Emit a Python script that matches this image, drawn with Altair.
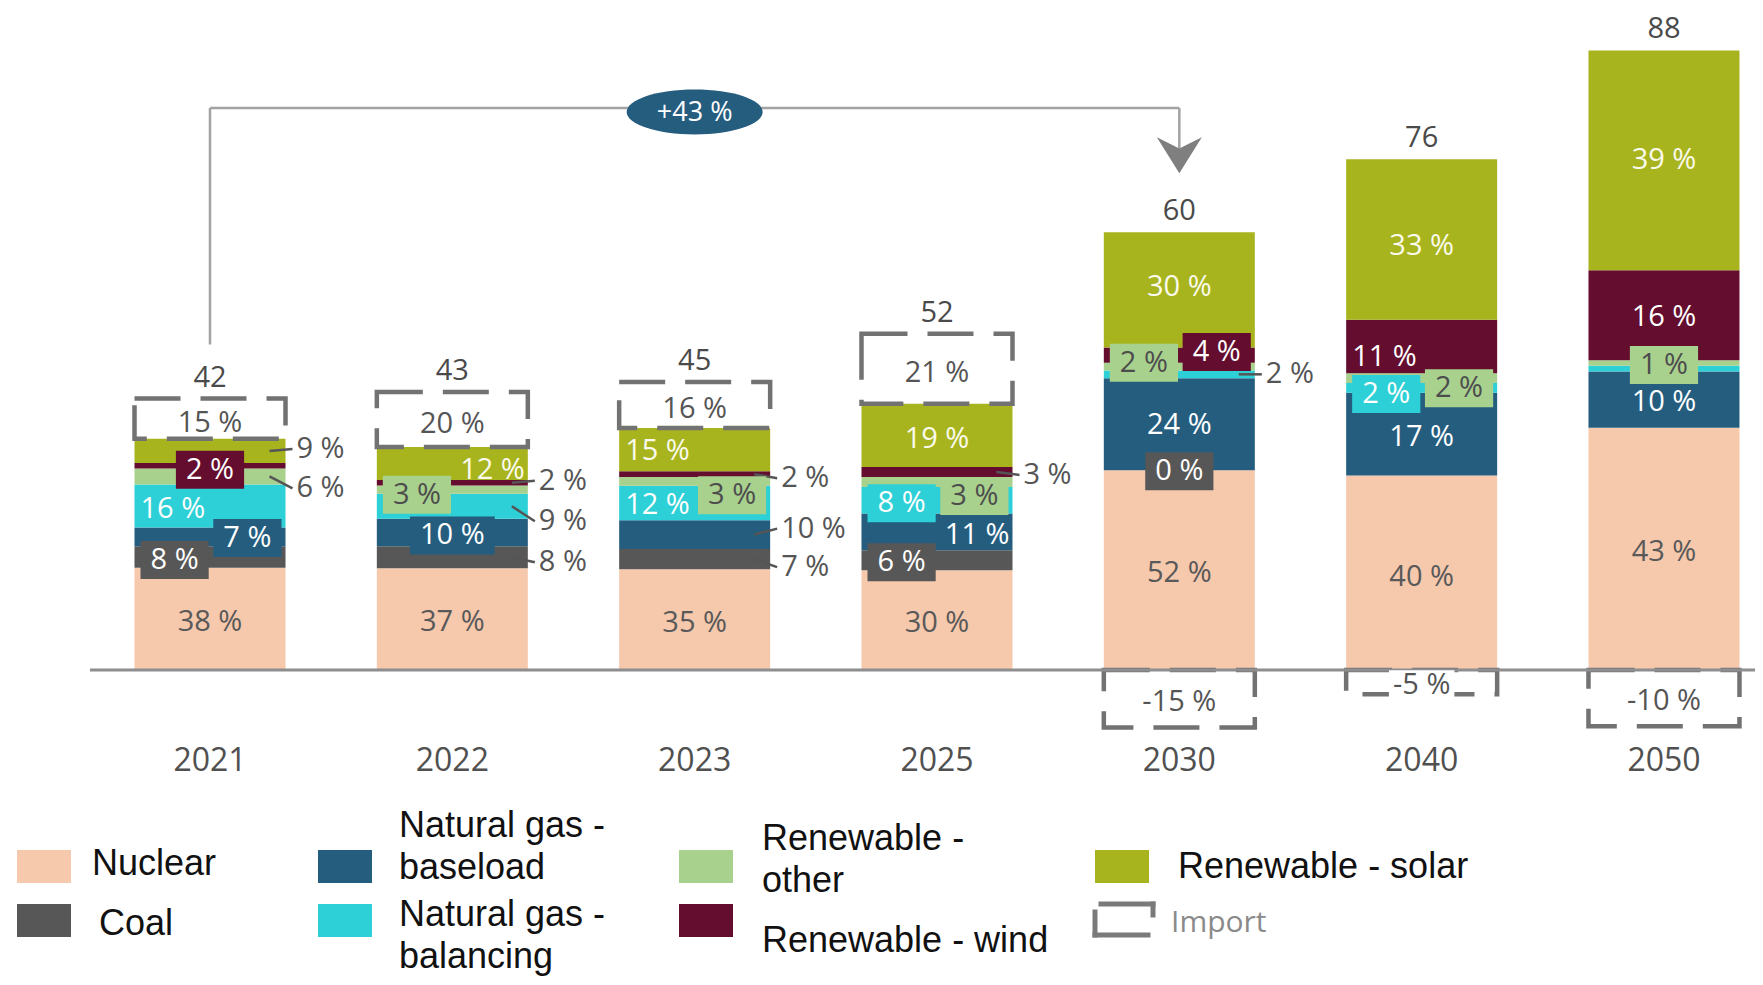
import altair as alt
import pandas as pd

# ---------------- data ----------------
years = ["2021", "2022", "2023", "2025", "2030", "2040", "2050"]
totals = [42, 43, 45, 52, 60, 76, 88]
import_pct = [15, 20, 16, 21, -15, -5, -10]
nuclear = [38, 37, 35, 30, 52, 40, 43]
coal = [8, 8, 7, 6, 0, 0, 0]
gas_baseload = [7, 10, 10, 11, 24, 17, 10]
gas_balancing = [16, 9, 12, 8, 2, 2, 1]
renew_other = [6, 3, 3, 3, 2, 2, 1]
renew_wind = [2, 2, 2, 3, 4, 11, 16]
renew_solar = [9, 12, 15, 19, 30, 33, 39]
categories = ["Nuclear", "Coal", "Natural gas - baseload", "Natural gas - balancing",
              "Renewable - other", "Renewable - wind", "Renewable - solar"]
growth_text = "+43 %"
import_name = "Import"

series = [nuclear, coal, gas_baseload, gas_balancing, renew_other, renew_wind, renew_solar]
KEYS = ["nuc", "coal", "base", "bal", "oth", "wind", "sol"]

# ---------------- styles ----------------
COLORS = {"nuc": "#F6C8AC", "coal": "#575757", "base": "#255D7F", "bal": "#2CD0D6",
          "oth": "#A9D18E", "wind": "#640D2E", "sol": "#A8B41D"}
TEXT_ON = {"nuc": "#595959", "coal": "#FFFFFF", "base": "#FFFFFF", "bal": "#FFFFFF",
           "oth": "#4D4D4D", "wind": "#FFFFFF", "sol": "#FAFAEC"}
GRAY_TXT = "#555555"
FONT = "Open Sans"
LEG_FONT = "Liberation Sans"
FS = 29
FS_TOT = 29
FS_YEAR = 32
FS_LEG = 36
TOT_GAP = 21

# label placement: (mode, boxed, dy px)
LABEL_LAYOUT = {
    (0, "nuc"): ("c", False, 3), (0, "coal"): ("l", True, 3), (0, "base"): ("r", True, 1),
    (0, "bal"): ("l", False, 3), (0, "oth"): ("out", False, 12), (0, "wind"): ("c", True, 4),
    (0, "sol"): ("out", False, -2),
    (1, "nuc"): ("c", False, 3), (1, "coal"): ("out", False, 5), (1, "base"): ("c", True, 3),
    (1, "bal"): ("out", False, 15), (1, "oth"): ("l", True, 5), (1, "wind"): ("out", False, -2),
    (1, "sol"): ("r", False, 6),
    (2, "nuc"): ("c", False, 3), (2, "coal"): ("out", False, 8), (2, "base"): ("out", False, -6),
    (2, "bal"): ("l", False, 2), (2, "oth"): ("r", True, 14), (2, "wind"): ("out", False, 4),
    (2, "sol"): ("l", False, 1),
    (3, "nuc"): ("c", False, 3), (3, "coal"): ("l", True, 2), (3, "base"): ("r", False, 3),
    (3, "bal"): ("l", True, 3), (3, "oth"): ("r", True, 14), (3, "wind"): ("out", False, 3),
    (3, "sol"): ("c", False, 4),
    (4, "nuc"): ("c", False, 3), (4, "coal"): ("c", True, 1), (4, "base"): ("c", False, 1),
    (4, "bal"): ("out", False, 0), (4, "oth"): ("l", True, -4), (4, "wind"): ("r", True, -3),
    (4, "sol"): ("c", False, -3),
    (5, "nuc"): ("c", False, 4), (5, "base"): ("c", False, 3), (5, "bal"): ("l", True, 6),
    (5, "oth"): ("r", True, 10), (5, "wind"): ("l", False, 10), (5, "sol"): ("c", False, 6),
    (6, "nuc"): ("c", False, 3), (6, "base"): ("c", False, 2), (6, "oth"): ("c", True, 2),
    (6, "wind"): ("c", False, 2), (6, "sol"): ("c", False, 0),
}

# ---------------- layout (pixel geometry of the page) ----------------
W, H = 1747, 968
MARGIN = 8
X0, PXX = 210.0, 242.33     # first bar centre and step (page px)
BASE, K = 670.0, 6.40       # baseline (page px) and px per unit
XMIN = (MARGIN - X0) / PXX
XMAX = (MARGIN + W - X0) / PXX
YMAX = (BASE - MARGIN) / K
YMIN = (BASE - MARGIN - H) / K
BAR_W = 151


def fx(X):
    return (X - X0) / PXX


def fy(Y):
    return (BASE - Y) / K


def px(i):
    return X0 + PXX * i


def py(v):
    return BASE - K * v


def tw(s, fs):
    m = {"%": 0.83, " ": 0.26, "-": 0.32, "+": 0.57}
    return fs * sum(m.get(ch, 0.572) for ch in s)


HB = BAR_W / 2 / PXX
xs = alt.Scale(domain=[XMIN, XMAX], nice=False, zero=False)
ys = alt.Scale(domain=[YMIN, YMAX], nice=False, zero=False)
color_scale = alt.Scale(domain=categories, range=[COLORS[k] for k in KEYS])

# ---------------- build tables ----------------
seg_rows, lab_c, lab_l, lab_r, box_rows, lead_rows = [], [], [], [], [], []
imp_box, imp_lab, imp_bg, tot_lab, year_lab = [], [], [], [], []
tops = []
for i in range(len(years)):
    T = totals[i]
    cum = 0
    cx = px(i)
    L, R = cx - BAR_W / 2, cx + BAR_W / 2
    for key, name, arr in zip(KEYS, categories, series):
        p = arr[i]
        v0 = cum * T / 100
        cum += p
        v1 = cum * T / 100
        if p > 0:
            seg_rows.append(dict(x=i - HB, x2=i + HB, y=v0, y2=v1, cat=name))
        spec = LABEL_LAYOUT.get((i, key))
        if spec is None:
            continue
        mode, boxed, dy = spec
        txt = f"{p} %"
        Yc = py((v0 + v1) / 2)
        Yl = Yc + dy
        w = tw(txt, FS)
        bw = w + 20
        col = TEXT_ON[key]
        if mode == "out":
            lead_rows.append(dict(x=fx(R - 16), x2=fx(R + 7), y=fy(Yc), y2=fy(Yl)))
            lab_l.append(dict(x=fx(R + 11), y=fy(Yl), text=txt, color=GRAY_TXT))
            continue
        if boxed:
            if mode == "c":
                bc = cx
            elif mode == "l":
                bc = L + 6 + bw / 2
            else:
                bc = R - 4 - bw / 2
            box_rows.append(dict(x=fx(bc - bw / 2), x2=fx(bc + bw / 2),
                                 y=fy(Yl - 19), y2=fy(Yl + 19), fill=COLORS[key]))
            lab_c.append(dict(x=fx(bc), y=fy(Yl), text=txt, color=col))
        else:
            if mode == "c":
                lab_c.append(dict(x=fx(cx), y=fy(Yl), text=txt, color=col))
            elif mode == "l":
                lab_l.append(dict(x=fx(L + 6), y=fy(Yl), text=txt, color=col))
            else:
                lab_r.append(dict(x=fx(R - 3), y=fy(Yl), text=txt, color=col))
    prod_top = cum * T / 100
    imp = import_pct[i]
    itxt = f"{imp} %"
    if imp > 0:
        b0, b1 = prod_top, prod_top + imp * T / 100
        top = b1
        ly = py((b0 + b1) / 2) + 4
    else:
        b0, b1 = imp * T / 100, 0
        top = prod_top
        ly = py((b0 + b1) / 2) + 3
        iw = tw(itxt, FS) + 8
        imp_bg.append(dict(x=fx(cx - iw / 2), x2=fx(cx + iw / 2), y=fy(ly - 15), y2=fy(ly + 15)))
    imp_box.append(dict(x=i - HB, x2=i + HB, y=b0, y2=b1))
    imp_lab.append(dict(x=i, y=fy(ly), text=itxt))
    tops.append(top)
    tot_lab.append(dict(x=i, y=fy(py(top) - TOT_GAP), text=str(T)))
    year_lab.append(dict(x=i, y=fy(BASE + 91), text=years[i]))

segs = pd.DataFrame(seg_rows)


def XQ(f="x"):
    return alt.X(f"{f}:Q", scale=xs, axis=None)


def YQ(f="y"):
    return alt.Y(f"{f}:Q", scale=ys, axis=None)


layers = []
layers.append(alt.Chart(segs).mark_rect().encode(
    x=XQ(), x2="x2:Q", y=YQ(), y2="y2:Q",
    color=alt.Color("cat:N", scale=color_scale, legend=None)))

layers.append(alt.Chart(pd.DataFrame(imp_box)).mark_rect(
    fill="white", fillOpacity=0, stroke="#727272", strokeWidth=4.5, strokeDash=[46, 20]
).encode(x=XQ(), x2="x2:Q", y=YQ(), y2="y2:Q"))

# baseline
layers.append(alt.Chart(pd.DataFrame([dict(x=fx(90), x2=XMAX + 1, y=0)])).mark_rule(
    color="#8E8E8E", strokeWidth=3).encode(x=XQ(), x2="x2:Q", y=YQ()))

layers.append(alt.Chart(pd.DataFrame(lead_rows)).mark_rule(
    color="#555555", strokeWidth=2.5).encode(x=XQ(), x2="x2:Q", y=YQ(), y2="y2:Q"))

layers.append(alt.Chart(pd.DataFrame(box_rows)).mark_rect().encode(
    x=XQ(), x2="x2:Q", y=YQ(), y2="y2:Q", color=alt.Color("fill:N", scale=None)))

for df, al in [(lab_c, "center"), (lab_l, "left"), (lab_r, "right")]:
    layers.append(alt.Chart(pd.DataFrame(df)).mark_text(
        font=FONT, fontSize=FS, align=al, baseline="middle").encode(
        x=XQ(), y=YQ(), text="text:N", color=alt.Color("color:N", scale=None)))

layers.append(alt.Chart(pd.DataFrame(imp_bg)).mark_rect(color="white").encode(
    x=XQ(), x2="x2:Q", y=YQ(), y2="y2:Q"))
layers.append(alt.Chart(pd.DataFrame(imp_lab)).mark_text(
    font=FONT, fontSize=FS, align="center", baseline="middle", color=GRAY_TXT).encode(
    x=XQ(), y=YQ(), text="text:N"))
layers.append(alt.Chart(pd.DataFrame(tot_lab)).mark_text(
    font=FONT, fontSize=FS_TOT, align="center", baseline="middle", color="#4A4A4A").encode(
    x=XQ(), y=YQ(), text="text:N"))
layers.append(alt.Chart(pd.DataFrame(year_lab)).mark_text(
    font=FONT, fontSize=FS_YEAR, align="center", baseline="middle", color="#505050").encode(
    x=XQ(), y=YQ(), text="text:N"))

# ---------------- growth annotation (2021 -> 2030) ----------------
a_from, a_to = 0, 4
line_Y = 108
left_end = py(tops[a_from]) - TOT_GAP - 33
tip_Y = py(tops[a_to]) - TOT_GAP - 38
ann_lines = pd.DataFrame([
    dict(x=a_from, x2=a_to, y=fy(line_Y), y2=fy(line_Y)),
    dict(x=a_from, x2=a_from, y=fy(line_Y), y2=fy(left_end)),
    dict(x=a_to, x2=a_to, y=fy(line_Y), y2=fy(tip_Y - 20)),
])
layers.append(alt.Chart(ann_lines).mark_rule(color="#A3A3A3", strokeWidth=2.5).encode(
    x=XQ(), x2="x2:Q", y=YQ(), y2="y2:Q"))
layers.append(alt.Chart(pd.DataFrame([dict(x=a_to, y=fy(tip_Y - 22.5))])).mark_point(
    shape="M0,1 L-1,-0.6 L0,-0.1 L1,-0.6 Z", size=2025, filled=True, opacity=1,
    color="#7F7F7F").encode(x=XQ(), y=YQ()))
mid = (a_from + a_to) / 2
layers.append(alt.Chart(pd.DataFrame([dict(x=mid, y=fy(112))])).mark_point(
    shape="M-1,0 A1,0.33 0 1,1 1,0 A1,0.33 0 1,1 -1,0 Z", size=18496, filled=True,
    opacity=1, color="#255D7F").encode(x=XQ(), y=YQ()))
layers.append(alt.Chart(pd.DataFrame([dict(x=mid, y=fy(113), text=growth_text)])).mark_text(
    font=FONT, fontSize=27, align="center", baseline="middle", color="white").encode(
    x=XQ(), y=YQ(), text="text:N"))

# ---------------- legend ----------------
LEG_COL_X = [17, 318, 679, 1095]
LEG_ROW_Y = [850, 904]
SW_W, SW_H = 54, 33
LEG_TXT_DX = [75, 81, 83, 83]
leg_items = [  # (category index, col, row, first baseline, extra dx, wrapped label)
    (0, 0, 0, 875, 0, "Nuclear"),
    (1, 0, 1, 935, 7, "Coal"),
    (2, 1, 0, 837, 0, "Natural gas -\nbaseload"),
    (3, 1, 1, 926, 0, "Natural gas -\nbalancing"),
    (4, 2, 0, 850, 0, "Renewable -\nother"),
    (5, 2, 1, 952, 0, "Renewable - wind"),
    (6, 3, 0, 878, 0, "Renewable - solar"),
]
sw_rows, lt_rows = [], []
for ci, c, r, bl, edx, lab in leg_items:
    x0 = LEG_COL_X[c]
    y0 = LEG_ROW_Y[r]
    sw_rows.append(dict(x=fx(x0), x2=fx(x0 + SW_W), y=fy(y0), y2=fy(y0 + SW_H),
                        cat=categories[ci]))
    lt_rows.append(dict(x=fx(x0 + LEG_TXT_DX[c] + edx), y=fy(bl), text=lab))
layers.append(alt.Chart(pd.DataFrame(sw_rows)).mark_rect().encode(
    x=XQ(), x2="x2:Q", y=YQ(), y2="y2:Q",
    color=alt.Color("cat:N", scale=color_scale, legend=None)))
layers.append(alt.Chart(pd.DataFrame(lt_rows)).mark_text(
    font=LEG_FONT, fontSize=FS_LEG, align="left", baseline="alphabetic", color="#111111",
    lineBreak="\n", lineHeight=42).encode(x=XQ(), y=YQ(), text="text:N"))

ix0, iy0 = LEG_COL_X[3], LEG_ROW_Y[1]
icon = pd.DataFrame([
    dict(x=fx(ix0 + 6), x2=fx(ix0 + 58), y=fy(iy0), y2=fy(iy0)),
    dict(x=fx(ix0 + 58), x2=fx(ix0 + 58), y=fy(iy0), y2=fy(iy0 + 11)),
    dict(x=fx(ix0), x2=fx(ix0), y=fy(iy0 + 8), y2=fy(iy0 + 31)),
    dict(x=fx(ix0), x2=fx(ix0 + 53), y=fy(iy0 + 31), y2=fy(iy0 + 31)),
])
layers.append(alt.Chart(icon).mark_rule(color="#7A7A7A", strokeWidth=5, strokeCap="square").encode(
    x=XQ(), x2="x2:Q", y=YQ(), y2="y2:Q"))
layers.append(alt.Chart(pd.DataFrame([dict(x=fx(ix0 + 76), y=fy(932), text=import_name)])).mark_text(
    font=FONT, fontSize=30, align="left", baseline="alphabetic", color="#8A8A8A").encode(
    x=XQ(), y=YQ(), text="text:N"))

chart = alt.layer(*layers).properties(
    width=W, height=H, autosize=alt.AutoSizeParams(type="none"), padding=0
).configure_view(strokeWidth=0)

chart.save("out.html", embed_options={"renderer": "svg", "actions": False})
